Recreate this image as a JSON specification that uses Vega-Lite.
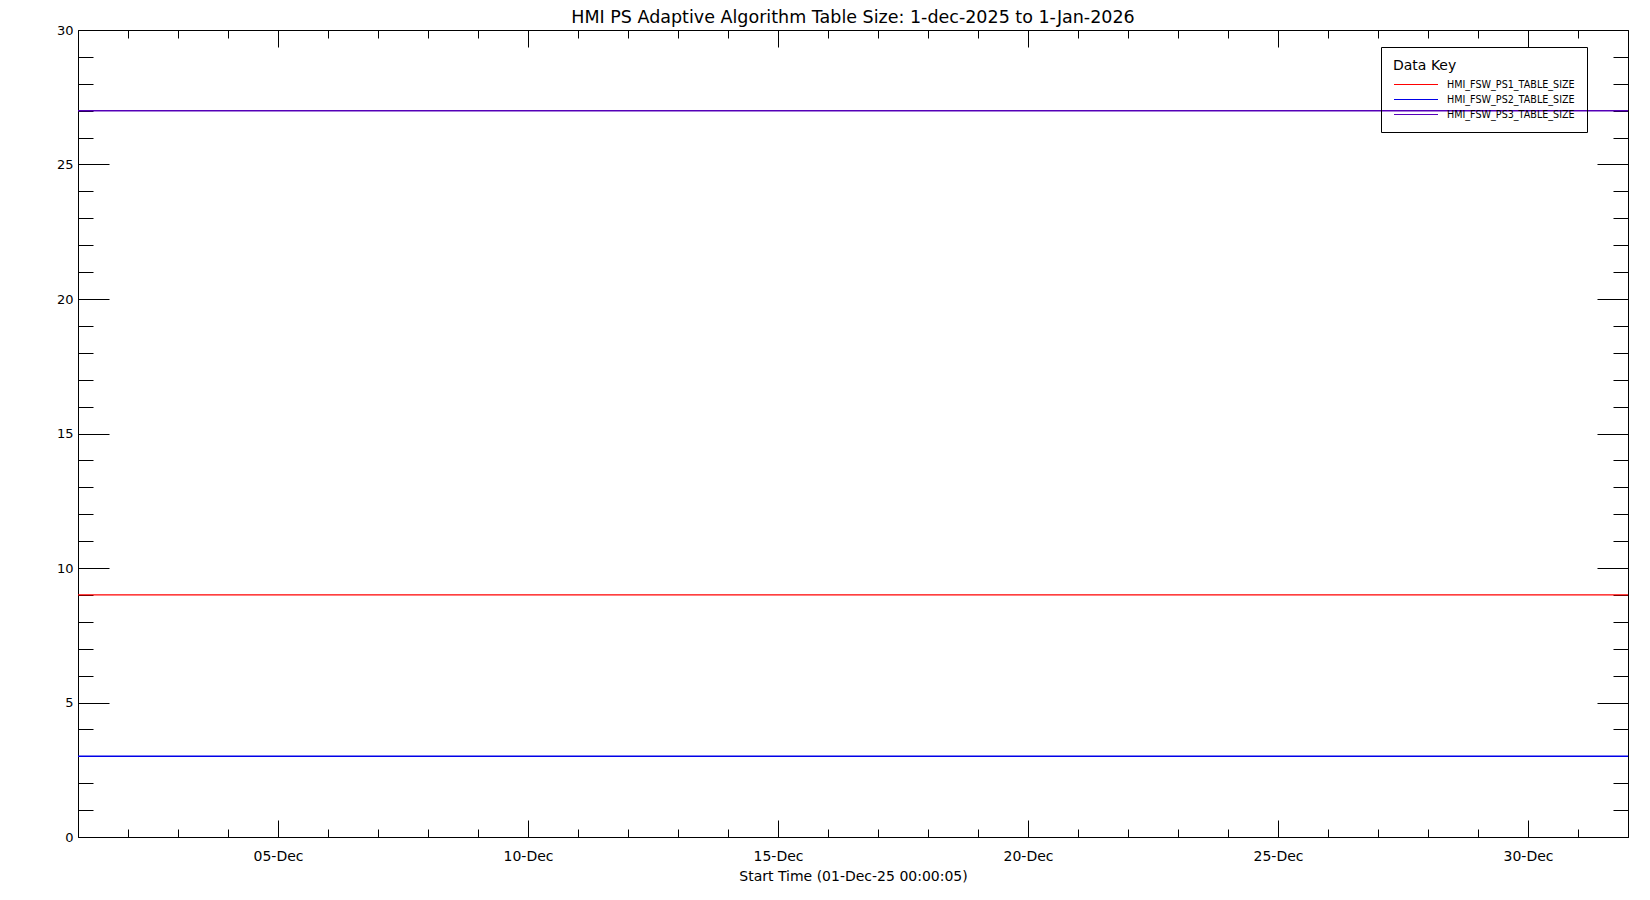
{
  "$schema": "https://vega.github.io/schema/vega-lite/v6.json",
  "width": 1550,
  "height": 807,
  "autosize": "none",
  "padding": {"left": 78, "top": 30, "right": 22, "bottom": 63},
  "background": "white",
  "title": {
    "text": "HMI PS Adaptive Algorithm Table Size: 1-dec-2025 to 1-Jan-2026",
    "fontSize": 17.5,
    "fontWeight": "normal",
    "font": "DejaVu Sans",
    "color": "black",
    "anchor": "middle",
    "offset": -2
  },
  "config": {
    "view": {"stroke": "black", "strokeWidth": 1},
    "font": "DejaVu Sans",
    "axis": {
      "domain": false,
      "grid": false,
      "tickColor": "black",
      "tickWidth": 1,
      "labelColor": "black",
      "labelFont": "DejaVu Sans",
      "titleFont": "DejaVu Sans",
      "titleFontWeight": "normal",
      "titleColor": "black"
    }
  },
  "data": {
    "values": [
      {"series": "HMI_FSW_PS1_TABLE_SIZE", "t": "2025-12-01T00:00:05Z", "v": 9},
      {"series": "HMI_FSW_PS1_TABLE_SIZE", "t": "2025-12-31T23:59:59Z", "v": 9},
      {"series": "HMI_FSW_PS2_TABLE_SIZE", "t": "2025-12-01T00:00:05Z", "v": 3},
      {"series": "HMI_FSW_PS2_TABLE_SIZE", "t": "2025-12-31T23:59:59Z", "v": 3},
      {"series": "HMI_FSW_PS3_TABLE_SIZE", "t": "2025-12-01T00:00:05Z", "v": 27},
      {"series": "HMI_FSW_PS3_TABLE_SIZE", "t": "2025-12-31T23:59:59Z", "v": 27}
    ]
  },
  "resolve": {
    "scale": {"x": "shared", "y": "shared"},
    "axis": {"x": "independent", "y": "independent"}
  },
  "layer": [
    {
      "mark": {"type": "line", "strokeWidth": 1.4},
      "encoding": {
        "x": {
          "field": "t", "type": "temporal",
          "scale": {"type": "utc", "nice": false, "domain": [{"year": 2025, "month": 12, "date": 1, "utc": true}, {"year": 2026, "month": 1, "date": 1, "utc": true}]},
          "axis": {
            "orient": "bottom",
            "values": [
              {"year": 2025, "month": 12, "date": 5, "utc": true},
              {"year": 2025, "month": 12, "date": 10, "utc": true},
              {"year": 2025, "month": 12, "date": 15, "utc": true},
              {"year": 2025, "month": 12, "date": 20, "utc": true},
              {"year": 2025, "month": 12, "date": 25, "utc": true},
              {"year": 2025, "month": 12, "date": 30, "utc": true}
            ],
            "format": "%d-%b",
            "tickSize": -17,
            "labelPadding": 29,
            "labelFontSize": 14,
            "labelFlush": false,
            "title": "Start Time (01-Dec-25 00:00:05)",
            "titleFontSize": 14,
            "titlePadding": 6
          }
        },
        "y": {
          "field": "v", "type": "quantitative",
          "scale": {"domain": [0, 30], "nice": false, "zero": true},
          "axis": {
            "orient": "left",
            "values": [0, 5, 10, 15, 20, 25, 30],
            "tickSize": -31,
            "labelPadding": 36,
            "labelFontSize": 13,
            "labelFlush": false,
            "title": null
          }
        },
        "color": {
          "field": "series", "type": "nominal",
          "scale": {"domain": ["HMI_FSW_PS1_TABLE_SIZE", "HMI_FSW_PS2_TABLE_SIZE", "HMI_FSW_PS3_TABLE_SIZE"], "range": ["#FF0000", "#0000E8", "#5500B8"]},
          "legend": {
            "orient": "none",
            "legendX": 1303,
            "legendY": 17,
            "title": "Data Key",
            "titleFontSize": 14,
            "titleFontWeight": "normal",
            "titleColor": "black",
            "labelFontSize": 9.6,
            "labelColor": "black",
            "strokeColor": "black",
            "padding": 12,
            "symbolType": "M-1,0H7",
            "symbolSize": 121,
            "symbolStrokeWidth": 1.2,
            "labelOffset": 41,
            "rowPadding": 3
          }
        }
      }
    },
    {
      "mark": {"type": "line", "opacity": 0},
      "encoding": {
        "x": {
          "field": "t", "type": "temporal",
          "scale": {"type": "utc", "nice": false},
          "axis": {
            "orient": "top",
            "values": [
              {"year": 2025, "month": 12, "date": 5, "utc": true},
              {"year": 2025, "month": 12, "date": 10, "utc": true},
              {"year": 2025, "month": 12, "date": 15, "utc": true},
              {"year": 2025, "month": 12, "date": 20, "utc": true},
              {"year": 2025, "month": 12, "date": 25, "utc": true},
              {"year": 2025, "month": 12, "date": 30, "utc": true}
            ],
            "tickSize": -17,
            "labels": false,
            "title": null
          }
        },
        "y": {
          "field": "v", "type": "quantitative",
          "axis": {
            "orient": "right",
            "values": [0, 5, 10, 15, 20, 25, 30],
            "tickSize": -31,
            "labels": false,
            "title": null
          }
        }
      }
    },
    {
      "mark": {"type": "line", "opacity": 0},
      "encoding": {
        "x": {
          "field": "t", "type": "temporal",
          "scale": {"type": "utc", "nice": false},
          "axis": {
            "orient": "bottom",
            "values": [
              {"year": 2025, "month": 12, "date": 2, "utc": true},
              {"year": 2025, "month": 12, "date": 3, "utc": true},
              {"year": 2025, "month": 12, "date": 4, "utc": true},
              {"year": 2025, "month": 12, "date": 5, "utc": true},
              {"year": 2025, "month": 12, "date": 6, "utc": true},
              {"year": 2025, "month": 12, "date": 7, "utc": true},
              {"year": 2025, "month": 12, "date": 8, "utc": true},
              {"year": 2025, "month": 12, "date": 9, "utc": true},
              {"year": 2025, "month": 12, "date": 10, "utc": true},
              {"year": 2025, "month": 12, "date": 11, "utc": true},
              {"year": 2025, "month": 12, "date": 12, "utc": true},
              {"year": 2025, "month": 12, "date": 13, "utc": true},
              {"year": 2025, "month": 12, "date": 14, "utc": true},
              {"year": 2025, "month": 12, "date": 15, "utc": true},
              {"year": 2025, "month": 12, "date": 16, "utc": true},
              {"year": 2025, "month": 12, "date": 17, "utc": true},
              {"year": 2025, "month": 12, "date": 18, "utc": true},
              {"year": 2025, "month": 12, "date": 19, "utc": true},
              {"year": 2025, "month": 12, "date": 20, "utc": true},
              {"year": 2025, "month": 12, "date": 21, "utc": true},
              {"year": 2025, "month": 12, "date": 22, "utc": true},
              {"year": 2025, "month": 12, "date": 23, "utc": true},
              {"year": 2025, "month": 12, "date": 24, "utc": true},
              {"year": 2025, "month": 12, "date": 25, "utc": true},
              {"year": 2025, "month": 12, "date": 26, "utc": true},
              {"year": 2025, "month": 12, "date": 27, "utc": true},
              {"year": 2025, "month": 12, "date": 28, "utc": true},
              {"year": 2025, "month": 12, "date": 29, "utc": true},
              {"year": 2025, "month": 12, "date": 30, "utc": true},
              {"year": 2025, "month": 12, "date": 31, "utc": true}
            ],
            "tickSize": -8,
            "labels": false,
            "title": null
          }
        },
        "y": {
          "field": "v", "type": "quantitative",
          "axis": {
            "orient": "left",
            "values": [0, 1, 2, 3, 4, 5, 6, 7, 8, 9, 10, 11, 12, 13, 14, 15, 16, 17, 18, 19, 20, 21, 22, 23, 24, 25, 26, 27, 28, 29, 30],
            "tickSize": -15,
            "labels": false,
            "title": null
          }
        }
      }
    },
    {
      "mark": {"type": "line", "opacity": 0},
      "encoding": {
        "x": {
          "field": "t", "type": "temporal",
          "scale": {"type": "utc", "nice": false},
          "axis": {
            "orient": "top",
            "values": [
              {"year": 2025, "month": 12, "date": 2, "utc": true},
              {"year": 2025, "month": 12, "date": 3, "utc": true},
              {"year": 2025, "month": 12, "date": 4, "utc": true},
              {"year": 2025, "month": 12, "date": 5, "utc": true},
              {"year": 2025, "month": 12, "date": 6, "utc": true},
              {"year": 2025, "month": 12, "date": 7, "utc": true},
              {"year": 2025, "month": 12, "date": 8, "utc": true},
              {"year": 2025, "month": 12, "date": 9, "utc": true},
              {"year": 2025, "month": 12, "date": 10, "utc": true},
              {"year": 2025, "month": 12, "date": 11, "utc": true},
              {"year": 2025, "month": 12, "date": 12, "utc": true},
              {"year": 2025, "month": 12, "date": 13, "utc": true},
              {"year": 2025, "month": 12, "date": 14, "utc": true},
              {"year": 2025, "month": 12, "date": 15, "utc": true},
              {"year": 2025, "month": 12, "date": 16, "utc": true},
              {"year": 2025, "month": 12, "date": 17, "utc": true},
              {"year": 2025, "month": 12, "date": 18, "utc": true},
              {"year": 2025, "month": 12, "date": 19, "utc": true},
              {"year": 2025, "month": 12, "date": 20, "utc": true},
              {"year": 2025, "month": 12, "date": 21, "utc": true},
              {"year": 2025, "month": 12, "date": 22, "utc": true},
              {"year": 2025, "month": 12, "date": 23, "utc": true},
              {"year": 2025, "month": 12, "date": 24, "utc": true},
              {"year": 2025, "month": 12, "date": 25, "utc": true},
              {"year": 2025, "month": 12, "date": 26, "utc": true},
              {"year": 2025, "month": 12, "date": 27, "utc": true},
              {"year": 2025, "month": 12, "date": 28, "utc": true},
              {"year": 2025, "month": 12, "date": 29, "utc": true},
              {"year": 2025, "month": 12, "date": 30, "utc": true},
              {"year": 2025, "month": 12, "date": 31, "utc": true}
            ],
            "tickSize": -8,
            "labels": false,
            "title": null
          }
        },
        "y": {
          "field": "v", "type": "quantitative",
          "axis": {
            "orient": "right",
            "values": [0, 1, 2, 3, 4, 5, 6, 7, 8, 9, 10, 11, 12, 13, 14, 15, 16, 17, 18, 19, 20, 21, 22, 23, 24, 25, 26, 27, 28, 29, 30],
            "tickSize": -15,
            "labels": false,
            "title": null
          }
        }
      }
    }
  ]
}
